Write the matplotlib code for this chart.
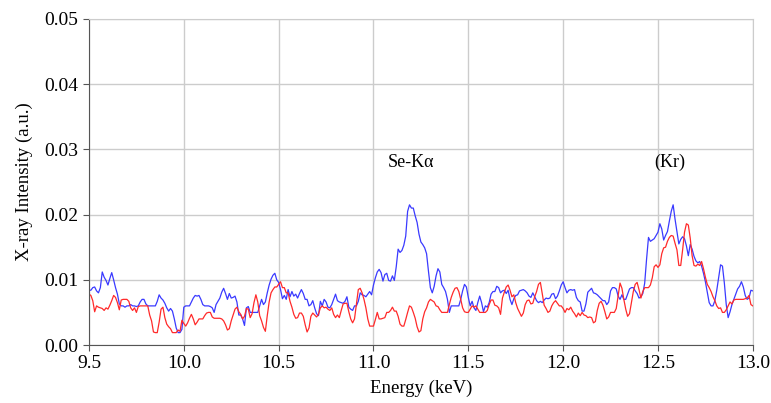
import numpy as np
import matplotlib
matplotlib.use("Agg")
import matplotlib.pyplot as plt

# energy axis, 0.01 keV per channel
energy = np.linspace(9.5, 13.0, 351)

# intensities in units of 1e-4 (a.u.)
blue_counts = [
    84, 84, 88, 89, 83, 80, 88, 112, 104, 99,
    92, 102, 111, 100, 88, 78, 63, 60, 60, 58,
    60, 60, 62, 60, 60, 59, 60, 66, 70, 70,
    63, 60, 60, 60, 60, 60, 67, 77, 72, 69,
    64, 57, 52, 56, 52, 40, 26, 19, 19, 24,
    58, 60, 60, 60, 66, 72, 76, 75, 76, 70,
    62, 60, 60, 60, 59, 57, 50, 62, 67, 72,
    81, 87, 79, 70, 79, 72, 73, 75, 66, 46,
    46, 40, 30, 57, 59, 50, 50, 50, 50, 50,
    60, 70, 62, 66, 80, 92, 101, 107, 110, 100,
    96, 85, 71, 76, 70, 85, 74, 82, 75, 78,
    72, 79, 85, 79, 70, 70, 60, 62, 68, 57,
    48, 45, 67, 60, 70, 66, 58, 57, 62, 70,
    78, 68, 66, 65, 64, 67, 74, 58, 55, 53,
    60, 60, 67, 80, 77, 76, 74, 78, 82, 77,
    92, 103, 112, 116, 111, 98, 108, 110, 99, 98,
    106, 99, 120, 147, 142, 145, 153, 167, 205, 215,
    210, 210, 198, 188, 170, 158, 154, 149, 140, 113,
    88, 80, 90, 106, 117, 112, 93, 88, 82, 70,
    50, 60, 60, 60, 60, 60, 70, 83, 93, 89,
    73, 60, 67, 57, 53, 65, 75, 65, 51, 60,
    58, 65, 78, 82, 82, 90, 88, 80, 83, 84,
    79, 84, 70, 62, 71, 76, 77, 83, 84, 85,
    83, 80, 75, 73, 80, 74, 68, 65, 67, 65,
    69, 72, 71, 72, 78, 79, 71, 75, 83, 92,
    97, 88, 80, 84, 85, 84, 85, 73, 68, 66,
    52, 52, 63, 81, 84, 87, 80, 79, 77, 74,
    71, 68, 68, 62, 66, 83, 88, 88, 86, 75,
    70, 77, 70, 70, 78, 86, 88, 88, 83, 79,
    72, 74, 79, 95, 132, 165, 159, 161, 163, 168,
    173, 186, 178, 161, 168, 174, 190, 205, 215, 193,
    174, 155, 162, 166, 163, 152, 137, 154, 147, 136,
    129, 126, 128, 121, 110, 97, 81, 65, 60, 60,
    68, 84, 104, 123, 121, 95, 62, 42, 51, 62,
    70, 78, 86, 90, 97, 89, 76, 70, 72, 84,
    83,
]

red_counts = [
    78, 76, 68, 51, 60, 58, 57, 56, 53, 57,
    55, 61, 68, 76, 73, 65, 54, 69, 70, 70,
    70, 67, 57, 53, 57, 50, 59, 60, 60, 60,
    60, 60, 46, 37, 20, 19, 19, 35, 55, 58,
    42, 32, 28, 25, 19, 19, 19, 23, 21, 38,
    33, 29, 34, 41, 47, 40, 31, 35, 40, 40,
    40, 45, 49, 50, 50, 43, 41, 41, 41, 41,
    40, 37, 31, 23, 25, 37, 46, 55, 58, 51,
    47, 40, 44, 56, 55, 42, 48, 65, 77, 66,
    45, 37, 27, 21, 45, 66, 80, 85, 89, 89,
    93, 97, 88, 88, 80, 80, 67, 58, 47, 41,
    42, 49, 49, 44, 31, 20, 26, 44, 49, 46,
    43, 47, 57, 60, 57, 58, 55, 53, 57, 47,
    42, 46, 42, 53, 63, 64, 64, 51, 40, 34,
    40, 62, 85, 87, 80, 70, 57, 40, 29, 29,
    29, 39, 50, 40, 40, 41, 42, 50, 50, 53,
    58, 52, 52, 44, 32, 29, 29, 39, 50, 60,
    58, 50, 41, 28, 20, 22, 40, 51, 57, 66,
    70, 68, 66, 60, 59, 54, 50, 50, 50, 50,
    62, 73, 81, 87, 88, 82, 70, 57, 51, 50,
    50, 55, 60, 58, 60, 55, 50, 50, 50, 50,
    53, 62, 69, 69, 61, 60, 57, 47, 72, 81,
    89, 92, 84, 74, 77, 65, 56, 50, 44, 49,
    62, 68, 69, 63, 64, 74, 82, 93, 96, 78,
    61, 56, 50, 52, 60, 65, 68, 64, 60, 60,
    56, 50, 56, 54, 58, 52, 48, 43, 49, 45,
    50, 46, 45, 42, 43, 42, 34, 36, 53, 64,
    67, 61, 51, 40, 43, 50, 50, 50, 56, 75,
    95, 87, 70, 55, 44, 48, 65, 82, 93, 96,
    85, 72, 82, 88, 88, 88, 92, 103, 120, 123,
    119, 123, 140, 149, 150, 159, 165, 168, 167, 156,
    146, 122, 122, 146, 173, 186, 184, 164, 137, 122,
    121, 124, 122, 128, 117, 104, 93, 88, 82, 74,
    68, 60, 56, 57, 50, 50, 54, 60, 66, 63,
    69, 70, 70, 70, 70, 70, 71, 72, 76, 62,
    60,
]

blue = np.array(blue_counts) * 1e-4
red = np.array(red_counts) * 1e-4

x_ticks = [9.5, 10.0, 10.5, 11.0, 11.5, 12.0, 12.5, 13.0]
y_ticks = [0.00, 0.01, 0.02, 0.03, 0.04, 0.05]

peak_labels = ["Se-K\u03b1", "(Kr)"]
peak_pos = [11.2, 12.56]

plt.rcParams['font.family'] = ['Liberation Serif', 'DejaVu Serif']

fig = plt.figure(figsize=(7.71, 4.03), dpi=100)
ax = fig.add_axes([0.1154, 0.1439, 0.861, 0.809])

ax.plot(energy, blue, color='#3a3aff', lw=0.9)
ax.plot(energy, red, color='#ff2a2a', lw=0.9)

for lab, xp in zip(peak_labels, peak_pos):
    ax.text(xp, 0.028, lab, ha='center', va='center', fontsize=13)

ax.set_xlim(9.5, 13.0)
ax.set_ylim(0, 0.05)
ax.set_xticks(x_ticks)
ax.set_yticks(y_ticks)
ax.set_xticklabels([f"{v:.1f}" for v in x_ticks])
ax.set_yticklabels([f"{v:.2f}" for v in y_ticks])
ax.tick_params(labelsize=14, direction='out', length=4, color='#555555')
ax.grid(True, color='#cccccc', lw=1)
ax.set_axisbelow(True)

for side in ['top', 'right']:
    ax.spines[side].set_color('#cccccc')
for side in ['left', 'bottom']:
    ax.spines[side].set_color('#555555')

ax.set_xlabel('Energy (keV)', fontsize=13.5, labelpad=5)
ax.set_ylabel('X-ray Intensity (a.u.)', fontsize=13.5, labelpad=8)

fig.savefig('out.png', dpi=100)
